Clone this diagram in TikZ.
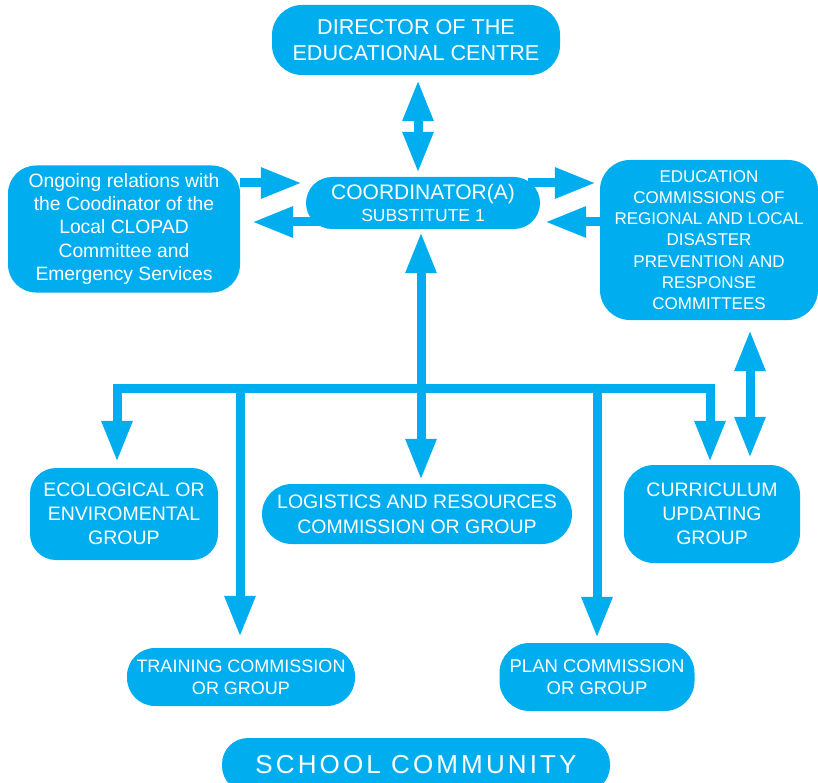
\documentclass[tikz,border=0pt]{standalone}
\usepackage{fontspec}
\setmainfont{Liberation Sans}
\usetikzlibrary{arrows.meta}
\definecolor{cy}{HTML}{00AEEF}
\begin{document}
\begin{tikzpicture}[x=1pt,y=-1pt,
  box/.style={fill=cy, text=white, align=center, inner sep=0pt, rounded corners=#1},
  arr/.style={draw=cy, line width=9pt, line join=miter},
  >={Triangle[length=41pt,width=29pt]}]
\useasboundingbox (0,0) rectangle (818,783);
% boxes
\node[box=30, minimum width=288pt, minimum height=70pt, font=\fontsize{21.6}{26}\selectfont] (dir) at (416,40) {DIRECTOR OF THE\\EDUCATIONAL CENTRE};
\node[box=26, minimum width=234pt, minimum height=52pt, font=\fontsize{21}{22}\selectfont] (coord) at (423,203) {COORDINATOR(A)\\{\fontsize{17.5}{19}\selectfont SUBSTITUTE 1}};
\node[box=28, minimum width=232pt, minimum height=127pt, font=\fontsize{19.3}{23.2}\selectfont] (left) at (124,229) {Ongoing relations with\\the Coodinator of the\\Local CLOPAD\\Committee and\\Emergency Services};
\node[box=30, minimum width=218pt, minimum height=160pt, font=\fontsize{17}{21.2}\selectfont] (right) at (709,240) {EDUCATION\\COMMISSIONS OF\\REGIONAL AND LOCAL\\DISASTER\\PREVENTION AND\\RESPONSE\\COMMITTEES};
\node[box=26, minimum width=188pt, minimum height=92pt, font=\fontsize{19.5}{24}\selectfont] (eco) at (124,514) {ECOLOGICAL OR\\ENVIROMENTAL\\GROUP};
\node[box=30, minimum width=310pt, minimum height=60pt, font=\fontsize{19.5}{25}\selectfont] (log) at (417,514) {LOGISTICS AND RESOURCES\\COMMISSION OR GROUP};
\node[box=30, minimum width=176pt, minimum height=98pt, font=\fontsize{19.5}{24}\selectfont] (cur) at (712,514) {CURRICULUM\\UPDATING\\GROUP};
\node[box=28, minimum width=228pt, minimum height=58pt, font=\fontsize{18}{22}\selectfont] (train) at (241,677) {TRAINING COMMISSION\\OR GROUP};
\node[box=30, minimum width=195pt, minimum height=68pt, font=\fontsize{18.5}{22}\selectfont] (plan) at (597,677) {PLAN COMMISSION\\OR GROUP};
\node[box=26, minimum width=388pt, minimum height=54pt, font=\fontsize{26}{30}\selectfont\addfontfeature{LetterSpace=12}] (school) at (416,765) {SCHOOL COMMUNITY};
% bus coordinates
\coordinate (bus) at (421,388);
\coordinate (busL) at (117,388);
\coordinate (busR) at (710,388);
\coordinate (busT) at (240,388);
\coordinate (busP) at (597,388);
% connectors
\draw[arr,<->] ([xshift=2pt,yshift=-5pt]dir.south) -- ([xshift=2pt,yshift=4pt]dir.south |- coord.north);
\draw[arr,->] ([yshift=20pt]coord.west -| left.east) -- ([xshift=-4pt,yshift=20pt]coord.west);
\draw[arr,->] ([xshift=14pt,yshift=-19pt]coord.west) -- ([xshift=12pt,yshift=-19pt]coord.west -| left.east);
\draw[arr,->] ([xshift=-12pt,yshift=20pt]coord.east) -- ([xshift=-4pt,yshift=20pt]coord.east -| right.west);
\draw[arr,->] ([yshift=-19pt]coord.east -| right.west) -- ([xshift=5pt,yshift=-19pt]coord.east);
\draw[arr,<->] ([yshift=-3pt]coord.south -| bus) -- ([yshift=4pt]log.north -| bus);
\draw[arr,<->] ([yshift=6pt]eco.north -| busL) -- (busL) -- (busR) -- ([yshift=3pt]cur.north -| busR);
\draw[arr,->] (busT) -- ([yshift=11pt]train.north -| busT);
\draw[arr,->] (busP) -- ([yshift=5pt]plan.north -| busP);
\draw[arr,<->] ([xshift=41pt,yshift=-10pt]right.south) -- ([xshift=41pt,yshift=7pt]right.south |- cur.north);
\end{tikzpicture}
\end{document}
